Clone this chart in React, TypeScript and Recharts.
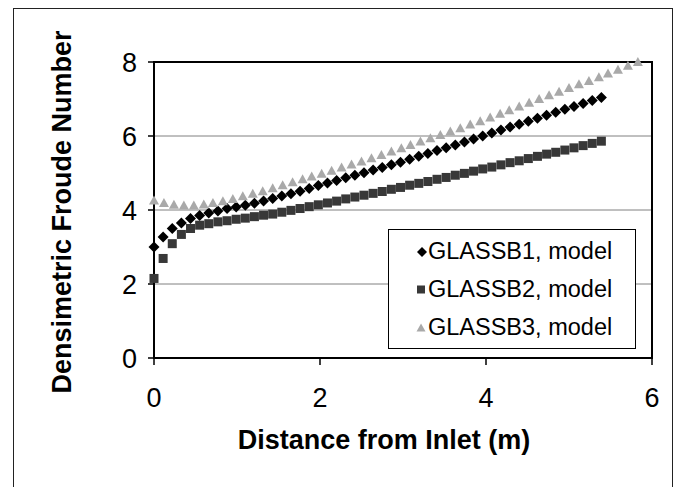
import React from "react";
import {
    ScatterChart,
    Scatter,
    XAxis,
    YAxis,
    CartesianGrid,
    ReferenceArea,
} from "recharts";

// distance from inlet (m) - B1 and B2 runs share the same stations
const distanceB12 = [
    0, 0.11, 0.22, 0.33, 0.44, 0.55, 0.66, 0.77, 0.88, 0.99,
    1.1, 1.21, 1.32, 1.43, 1.54, 1.65, 1.76, 1.87, 1.98, 2.09,
    2.2, 2.31, 2.42, 2.53, 2.64, 2.75, 2.86, 2.97, 3.08, 3.19,
    3.3, 3.41, 3.52, 3.63, 3.74, 3.85, 3.96, 4.07, 4.18, 4.29,
    4.4, 4.51, 4.62, 4.73, 4.84, 4.95, 5.06, 5.17, 5.28, 5.39,
];
const distanceB3 = [
    0, 0.12, 0.24, 0.36, 0.48, 0.6, 0.71, 0.83, 0.95, 1.07,
    1.19, 1.31, 1.43, 1.55, 1.67, 1.79, 1.9, 2.02, 2.14, 2.26,
    2.38, 2.5, 2.62, 2.74, 2.86, 2.98, 3.09, 3.21, 3.33, 3.45,
    3.57, 3.69, 3.81, 3.93, 4.05, 4.17, 4.28, 4.4, 4.52, 4.64,
    4.76, 4.88, 5.0, 5.12, 5.24, 5.36, 5.47, 5.59, 5.71, 5.83,
];

const froudeB1 = [
    3.0, 3.27, 3.5, 3.65, 3.77, 3.85, 3.92, 3.97, 4.04, 4.08,
    4.13, 4.18, 4.24, 4.31, 4.38, 4.44, 4.51, 4.58, 4.66, 4.73,
    4.8, 4.87, 4.94, 5.01, 5.08, 5.15, 5.22, 5.29, 5.37, 5.45,
    5.53, 5.61, 5.68, 5.76, 5.84, 5.92, 6.0, 6.08, 6.16, 6.24,
    6.32, 6.4, 6.48, 6.56, 6.64, 6.72, 6.8, 6.88, 6.96, 7.04,
];
const froudeB2 = [
    2.15, 2.69, 3.09, 3.34, 3.5, 3.59, 3.63, 3.68, 3.71, 3.75,
    3.78, 3.82, 3.86, 3.89, 3.94, 3.99, 4.04, 4.09, 4.14, 4.19,
    4.24, 4.3, 4.35, 4.4, 4.45, 4.5, 4.56, 4.61, 4.67, 4.72,
    4.77, 4.83, 4.88, 4.94, 4.99, 5.05, 5.11, 5.16, 5.22, 5.28,
    5.33, 5.39, 5.45, 5.51, 5.56, 5.62, 5.68, 5.74, 5.8, 5.86,
];
const froudeB3 = [
    4.26, 4.19, 4.14, 4.12, 4.12, 4.15, 4.19, 4.24, 4.3, 4.37,
    4.44, 4.51, 4.59, 4.67, 4.75, 4.83, 4.91, 4.98, 5.06, 5.15,
    5.23, 5.31, 5.4, 5.49, 5.58, 5.67, 5.76, 5.85, 5.94, 6.03,
    6.12, 6.21, 6.31, 6.4, 6.5, 6.6, 6.7, 6.8, 6.9, 7.0,
    7.1, 7.2, 7.3, 7.4, 7.49, 7.59, 7.69, 7.79, 7.9, 8.0,
];

const seriesNames = ["GLASSB1, model", "GLASSB2, model", "GLASSB3, model"];
const xTicks = [0, 2, 4, 6];
const yTicks = [0, 2, 4, 6, 8];

const b1Data = distanceB12.map((x, i) => ({ x, y: froudeB1[i] }));
const b2Data = distanceB12.map((x, i) => ({ x, y: froudeB2[i] }));
const b3Data = distanceB3.map((x, i) => ({ x, y: froudeB3[i] }));

const FONT = "Arial, 'Liberation Sans', sans-serif";
const B1_COLOR = "#000000";
const B2_COLOR = "#383838";
const B3_COLOR = "#a9a9a9";

const diamondPath = (cx: number, cy: number, r: number) =>
    `M${cx},${cy - r}L${cx + r},${cy}L${cx},${cy + r}L${cx - r},${cy}Z`;
const trianglePath = (cx: number, cy: number, w: number, h: number) =>
    `M${cx},${cy - h * 0.55}L${cx + w / 2},${cy + h * 0.45}L${cx - w / 2},${cy + h * 0.45}Z`;

const DiamondShape = (props: any) => (
    <path d={diamondPath(props.cx, props.cy, 5.5)} fill={B1_COLOR} />
);
const SquareShape = (props: any) => (
    <rect x={props.cx - 4.5} y={props.cy - 4.5} width={9} height={9} fill={B2_COLOR} />
);
const TriangleShape = (props: any) => (
    <path d={trianglePath(props.cx, props.cy, 10, 9)} fill={B3_COLOR} />
);

const XTitle = () => (
    <text x={384} y={449} textAnchor="middle" fontSize={27} fontWeight="bold" fill="#000" fontFamily={FONT}>
        Distance from Inlet (m)
    </text>
);
const YTitle = () => (
    <text
        x={62}
        y={212}
        transform="rotate(-90, 62, 212)"
        textAnchor="middle"
        dominantBaseline="central"
        fontSize={27}
        fontWeight="bold"
        fill="#000"
        fontFamily={FONT}
    >
        Densimetric Froude Number
    </text>
);

function LegendBox() {
    const rows = [
        { y: 22, marker: <path d={diamondPath(33, 22, 5)} fill={B1_COLOR} /> },
        { y: 60, marker: <rect x={28} y={55.5} width={8} height={8} fill={B2_COLOR} /> },
        { y: 98, marker: <path d={trianglePath(32, 98, 9, 8)} fill={B3_COLOR} /> },
    ];
    return (
        <div
            style={{
                position: "absolute",
                left: 388,
                top: 229,
                width: 246,
                height: 118,
                border: "1px solid #000",
                background: "#fff",
            }}
        >
            <svg width={246} height={118} style={{ display: "block" }}>
                {rows.map((r, i) => (
                    <g key={seriesNames[i]}>
                        {r.marker}
                        <text x={39} y={r.y + 7} fontSize={23.5} fill="#000" fontFamily={FONT}>
                            {seriesNames[i]}
                        </text>
                    </g>
                ))}
            </svg>
        </div>
    );
}

export default function App() {
    return (
        <div
            style={{
                position: "fixed",
                left: 0,
                top: 0,
                width: 678,
                height: 487,
                overflow: "hidden",
                background: "#fff",
                fontFamily: FONT,
            }}
        >
            <div
                style={{
                    position: "absolute",
                    left: 13,
                    top: 8,
                    width: 658,
                    height: 520,
                    border: "1px solid #222",
                }}
            />
            <ScatterChart
                width={678}
                height={487}
                margin={{ top: 62, right: 26, bottom: 99, left: 54 }}
                style={{ position: "absolute", left: 0, top: 0 }}
            >
                <CartesianGrid vertical={false} stroke="#808080" strokeWidth={1} />
                <XAxis
                    type="number"
                    dataKey="x"
                    domain={[0, 6]}
                    ticks={xTicks}
                    height={30}
                    tick={{ fontSize: 27, fill: "#000", fontFamily: FONT }}
                    tickSize={7}
                    tickMargin={23}
                    tickLine={{ stroke: "#000", strokeWidth: 1.5 }}
                    axisLine={{ stroke: "#000", strokeWidth: 2 }}
                    label={<XTitle />}
                />
                <YAxis
                    type="number"
                    dataKey="y"
                    domain={[0, 8]}
                    ticks={yTicks}
                    width={100}
                    tick={{ fontSize: 27, fill: "#000", fontFamily: FONT }}
                    tickSize={6}
                    tickMargin={11}
                    tickLine={{ stroke: "#000", strokeWidth: 1.5 }}
                    axisLine={{ stroke: "#000", strokeWidth: 2 }}
                    label={<YTitle />}
                />
                <ReferenceArea
                    x1={0}
                    x2={6}
                    y1={0}
                    y2={8}
                    fill="none"
                    fillOpacity={0}
                    stroke="#000"
                    strokeWidth={2}
                    ifOverflow="visible"
                />
                <Scatter name={seriesNames[0]} data={b1Data} shape={<DiamondShape />} isAnimationActive={false} />
                <Scatter name={seriesNames[1]} data={b2Data} shape={<SquareShape />} isAnimationActive={false} />
                <Scatter name={seriesNames[2]} data={b3Data} shape={<TriangleShape />} isAnimationActive={false} />
            </ScatterChart>
            <LegendBox />
        </div>
    );
}
